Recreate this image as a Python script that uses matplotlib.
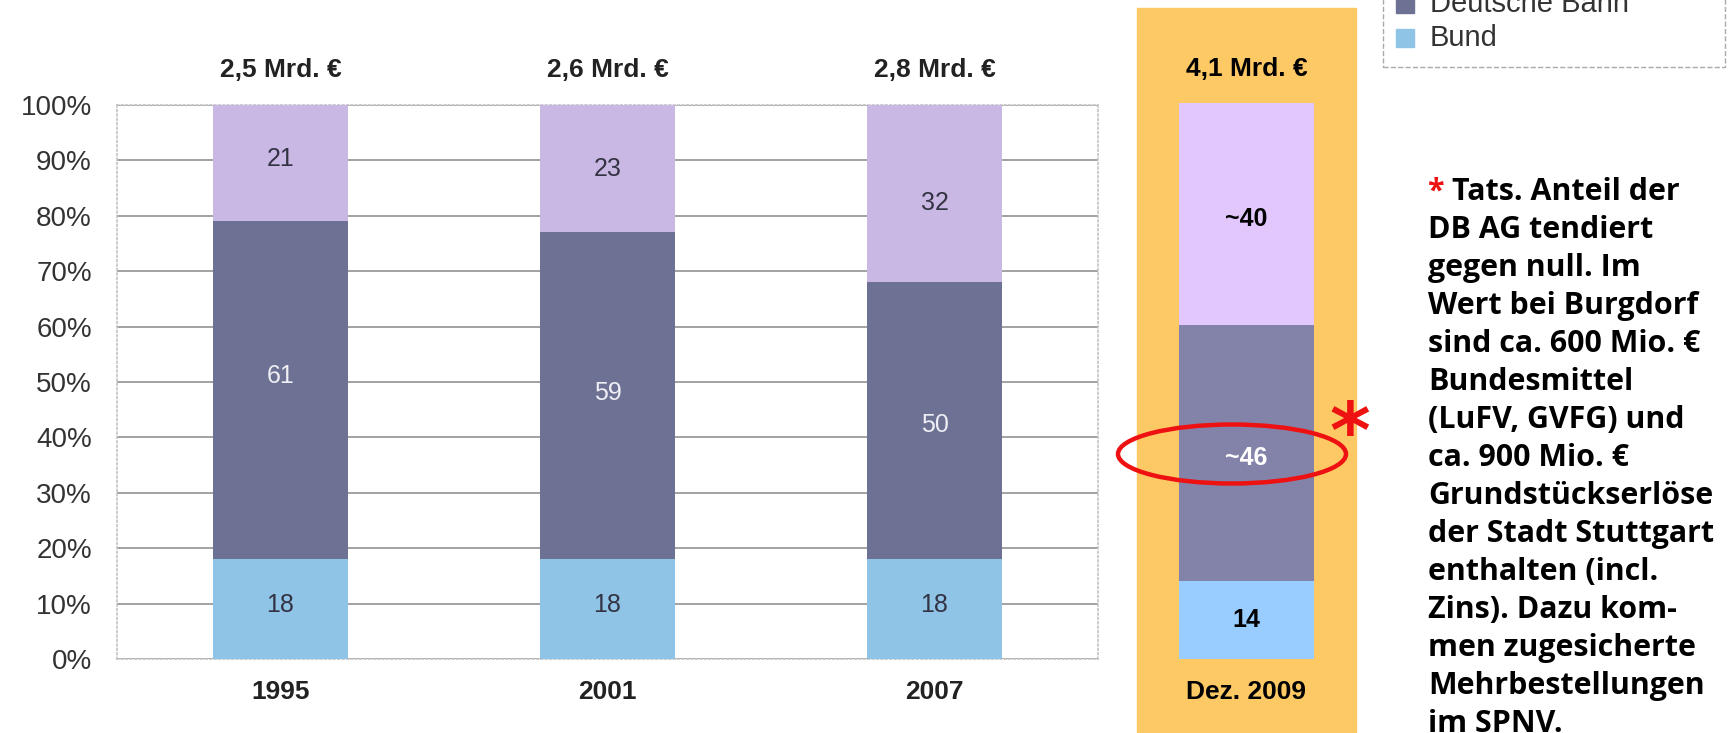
import matplotlib.pyplot as plt
import numpy as np
from matplotlib.patches import Rectangle, Ellipse

years = ["1995", "2001", "2007"]
totals = ["2,5 Mrd. €", "2,6 Mrd. €", "2,8 Mrd. €"]
bund = [18, 18, 18]
bahn = [61, 59, 50]
land = [21, 23, 32]

dez_label = "Dez. 2009"
dez_total = "4,1 Mrd. €"
dez_vals = [14, 46, 40]
dez_text = ["14", "~46", "~40"]

note_lines = ["Tats. Anteil der", "DB AG tendiert", "gegen null. Im",
              "Wert bei Burgdorf", "sind ca. 600 Mio. €", "Bundesmittel",
              "(LuFV, GVFG) und", "ca. 900 Mio. €", "Grundstückserlöse",
              "der Stadt Stuttgart", "enthalten (incl.", "Zins). Dazu kom-",
              "men zugesicherte", "Mehrbestellungen", "im SPNV."]

W, H = 1731, 733
fig = plt.figure(figsize=(W / 100, H / 100), dpi=100)
fig.patch.set_facecolor("white")

def fx(px):
    return px / W

def fy(py):
    return 1 - py / H

# main chart
ax = fig.add_axes([fx(117), fy(659), fx(1098 - 117), (659 - 105) / H])
x = np.arange(len(years))
w = 0.41
c_bund, c_bahn, c_land = "#8fc4e6", "#6d7194", "#c9b8e3"
ax.bar(x, bund, w, color=c_bund, zorder=3)
ax.bar(x, bahn, w, bottom=bund, color=c_bahn, zorder=3)
ax.bar(x, land, w, bottom=np.add(bund, bahn), color=c_land, zorder=3)

# label heights inside the segments, as placed in the original
bund_pos = [9.7, 9.7, 9.7]
bahn_pos = [51, 48, 42.3]
land_pos = [90.2, 88.4, 82.3]
for i in range(len(years)):
    ax.text(x[i], bund_pos[i], str(bund[i]), ha="center", va="center",
            fontsize=18, color="#333344", family="Liberation Sans", zorder=4)
    ax.text(x[i], bahn_pos[i], str(bahn[i]), ha="center", va="center",
            fontsize=18, color="#eeeef4", family="Liberation Sans", zorder=4)
    ax.text(x[i], land_pos[i], str(land[i]), ha="center", va="center",
            fontsize=18, color="#333344", family="Liberation Sans", zorder=4)
    ax.text(x[i], 106.3, totals[i], ha="center", va="center", fontsize=19,
            fontweight="bold", color="#222222", family="Liberation Sans")
ax.set_xlim(-0.5, 2.5)
ax.set_ylim(0, 100)
ax.set_yticks(range(0, 101, 10))
ax.set_yticklabels([f"{v}%" for v in range(0, 101, 10)], fontsize=20,
                   color="#333333", family="Liberation Sans")
ax.set_xticks(x)
ax.set_xticklabels(years, fontsize=19, fontweight="bold", color="#222222",
                   family="Liberation Sans")
ax.tick_params(length=0, axis="y", pad=18)
ax.tick_params(length=0, axis="x", pad=15)
ax.yaxis.grid(True, color="#9a9a9a", lw=1.3, zorder=0)
for s in ax.spines.values():
    s.set_color("#c4c4c4")
    s.set_linestyle(":")
    s.set_linewidth(1.2)

# orange panel with the 2009 bar
fig.patches.append(Rectangle((fx(1137), 0), fx(1356 - 1137), fy(8), color="#fdc965",
                             transform=fig.transFigure, zorder=-1))
ax2 = fig.add_axes([fx(1137), fy(659), fx(1356 - 1137), (659 - 103) / H])
ax2.set_facecolor("none")
bx = 0.5 * (1179 + 1314) - 1137
ax2.set_xlim(0, 219)
ax2.set_ylim(0, 100)
cols = ["#99ccff", "#8383aa", "#e1c7fb"]
tcol = ["black", "white", "black"]
bottom = 0
for v, c, t, tc in zip(dez_vals, cols, dez_text, tcol):
    ax2.bar(bx, v, 135, bottom=bottom, color=c)
    ax2.text(bx, bottom + v / 2 - 0.8 * (v != 14), t,
             ha="center", va="center", fontsize=18, fontweight="bold", color=tc,
             family="Liberation Sans")
    bottom += v
ax2.text(bx, 106.2, dez_total, ha="center", va="center", fontsize=19,
         fontweight="bold", color="black", family="Liberation Sans", clip_on=False)
ax2.text(bx, -6, dez_label, ha="center", va="center", fontsize=19,
         fontweight="bold", color="black", family="Liberation Sans", clip_on=False)
ax2.axis("off")

fig.patches.append(Ellipse((fx(1232), fy(454)), fx(228), 59 / H, fill=False,
                           edgecolor="#ee1111", lw=3.2, transform=fig.transFigure))
fig.text(fx(1350), fy(436), "*", fontsize=56, fontweight="bold", color="#ee1111",
         ha="center", va="center", family="DejaVu Sans")

# note text, sized so the widest line fits like in the original
fig.canvas.draw()
rend = fig.canvas.get_renderer()
probe = fig.text(0, 0, "der Stadt Stuttgart", fontsize=20, fontweight="bold",
                 family="Open Sans")
pw = probe.get_window_extent(rend).width
probe.remove()
fs = 20 * 286 / pw
for k, line in enumerate(note_lines):
    yy = fy(192 + 38 * k)
    if k == 0:
        star = fig.text(fx(1428), yy, "* ", fontsize=fs, fontweight="bold",
                        color="#ee1111", va="center", family="Open Sans")
        sw = star.get_window_extent(rend).width
        fig.text(fx(1428 + sw), yy, line, fontsize=fs, fontweight="bold",
                 color="black", va="center", family="Open Sans")
    else:
        fig.text(fx(1428), yy, line, fontsize=fs, fontweight="bold", color="black",
                 va="center", family="Open Sans")

# legend fragment at the top right
fig.patches.append(Rectangle((fx(1383), fy(67)), fx(1725 - 1383), 80 / H, fill=False,
                             edgecolor="#aaaaaa", lw=1, ls="--", transform=fig.transFigure))
for py, c, lab in [(4, c_bahn, "Deutsche Bahn"), (38, c_bund, "Bund")]:
    fig.patches.append(Rectangle((fx(1396), fy(py + 9)), fx(18), 18 / H, color=c,
                                 transform=fig.transFigure))
    fig.text(fx(1430), fy(py), lab, fontsize=21, color="#333333", va="center",
             family="Liberation Sans")

fig.savefig("out.png", dpi=100)
